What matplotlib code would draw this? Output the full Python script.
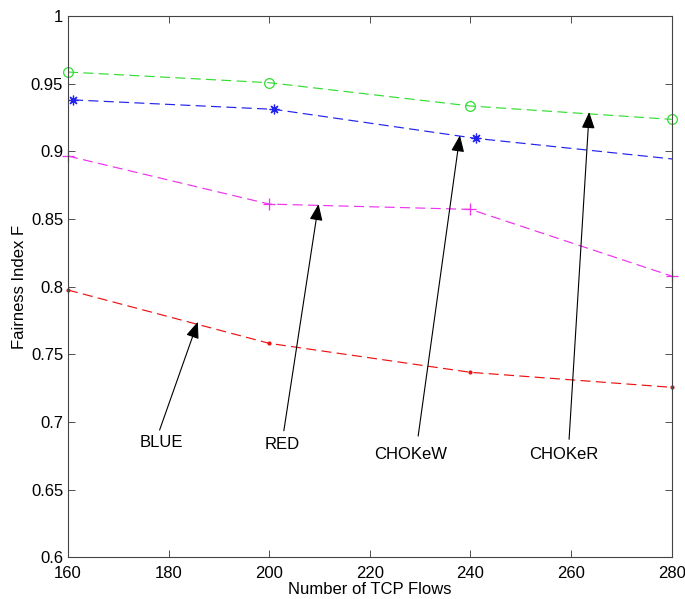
import matplotlib
matplotlib.use("Agg")
from matplotlib import pyplot as plt
from matplotlib.ticker import FormatStrFormatter
import numpy as np

plt.rcParams['font.family'] = ['Liberation Sans', 'DejaVu Sans']

# Data
flows = [160, 200, 240, 280]
flows_blue = [161, 201, 241, 281]   # blue markers sit slightly right of the grid
choker = [0.9586, 0.9507, 0.9335, 0.9236]
chokew = [0.9380, 0.9310, 0.9096, 0.8940]
red_q = [0.8965, 0.8610, 0.8571, 0.8078]
blue_q = [0.7975, 0.7581, 0.7367, 0.7256]

# label text, text position, arrow tail, arrow head
notes = [
    ("BLUE", (178.6, 0.6847), (178.2, 0.6940), (185.8, 0.7740)),
    ("RED", (202.6, 0.6834), (202.9, 0.6935), (209.8, 0.8610)),
    ("CHOKeW", (228.1, 0.6763), (229.6, 0.6896), (237.9, 0.9118)),
    ("CHOKeR", (258.5, 0.6763), (259.6, 0.6872), (263.6, 0.9290)),
]

fig = plt.figure(figsize=(6.85, 5.99), dpi=100)
ax = fig.add_axes([0.0993, 0.0696, 0.8813, 0.9037])

dash = (0, (8.5, 4.5))
ax.plot(flows, choker, color='#33dd33', ls=dash, lw=0.85, marker='o',
        mfc='none', ms=7, mew=0.9, clip_on=False)
ax.plot(flows_blue, chokew, color='#2222ee', ls=dash, lw=0.85, marker=(8, 2, 0),
        ms=7, mew=0.9)
ax.plot(flows, red_q, color='#ee33ee', ls=dash, lw=0.85, marker='+',
        ms=8, mew=0.9, clip_on=False)
ax.plot(flows, blue_q, color='#ee1111', ls=dash, lw=0.85, marker='.',
        ms=4, clip_on=False)

for label, txt, tail, head in notes:
    ax.text(txt[0], txt[1], label, ha='center', va='center', fontsize=12)
    ax.annotate('', xy=head, xytext=tail,
                arrowprops=dict(arrowstyle='-|>,head_length=1.0,head_width=0.4',
                                color='black', lw=0.8, shrinkA=0, shrinkB=0))

ax.set_xlim(160, 280)
ax.set_ylim(0.6, 1.0)
ax.set_xticks(np.arange(160, 281, 20))
ax.set_yticks(np.arange(0.6, 1.001, 0.05))
ax.yaxis.set_major_formatter(FormatStrFormatter('%g'))
ax.tick_params(direction='in', top=True, right=True, labelsize=12,
               length=5, width=0.6, colors='#333333', labelcolor='black')
ax.tick_params(axis='x', pad=6)
for s in ax.spines.values():
    s.set_linewidth(0.8)
    s.set_color('#444444')

ax.set_xlabel('Number of TCP Flows', fontsize=12, labelpad=1)
ax.set_ylabel('Fairness Index F', fontsize=12, labelpad=3)

fig.savefig('out.png', dpi=100)
